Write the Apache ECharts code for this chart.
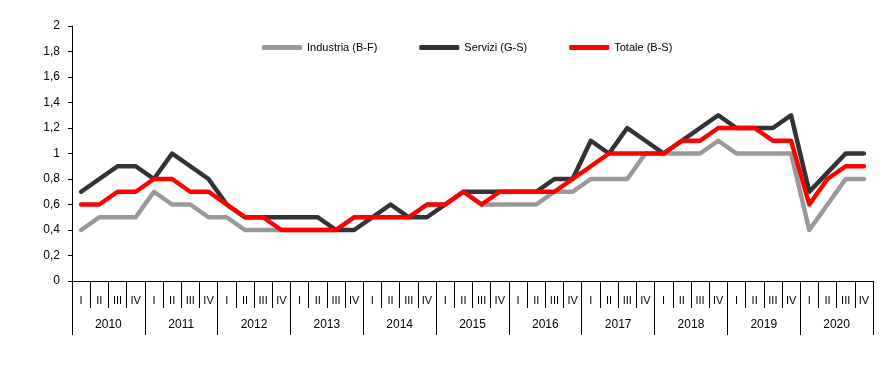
<!DOCTYPE html>
<html>
<head>
<meta charset="utf-8">
<script src="https://cdn.jsdelivr.net/npm/echarts@6/dist/echarts.min.js"></script>
<style>html,body{margin:0;padding:0;background:#fff}#c{width:895px;height:366px}</style>
</head>
<body>
<div id="c"></div>
<script>
var years = ['2010','2011','2012','2013','2014','2015','2016','2017','2018','2019','2020'];
var quarterNames = ['I','II','III','IV'];
var yTicks = {min: 0, max: 2, step: 0.2};
var industria = [
  0.4,0.5,0.5,0.5, 0.7,0.6,0.6,0.5, 0.5,0.4,0.4,0.4, 0.4,0.4,0.4,0.5,
  0.5,0.5,0.5,0.6, 0.6,0.7,0.6,0.6, 0.6,0.6,0.7,0.7, 0.8,0.8,0.8,1.0,
  1.0,1.0,1.0,1.1, 1.0,1.0,1.0,1.0, 0.4,0.6,0.8,0.8
];
var servizi = [
  0.7,0.8,0.9,0.9, 0.8,1.0,0.9,0.8, 0.6,0.5,0.5,0.5, 0.5,0.5,0.4,0.4,
  0.5,0.6,0.5,0.5, 0.6,0.7,0.7,0.7, 0.7,0.7,0.8,0.8, 1.1,1.0,1.2,1.1,
  1.0,1.1,1.2,1.3, 1.2,1.2,1.2,1.3, 0.7,0.85,1.0,1.0
];
var totale = [
  0.6,0.6,0.7,0.7, 0.8,0.8,0.7,0.7, 0.6,0.5,0.5,0.4, 0.4,0.4,0.4,0.5,
  0.5,0.5,0.5,0.6, 0.6,0.7,0.6,0.7, 0.7,0.7,0.7,0.8, 0.9,1.0,1.0,1.0,
  1.0,1.1,1.1,1.2, 1.2,1.2,1.1,1.1, 0.6,0.8,0.9,0.9
];
var seriesNames = ['Industria (B-F)','Servizi (G-S)','Totale (B-S)'];
var colors = ['#999999','#333333','#ff0000'];

var quarters = [];
years.forEach(function(y){ quarterNames.forEach(function(q){ quarters.push(q); }); });

var FONT = '"Liberation Sans Narrow", "Arial Narrow", "Liberation Sans", Arial, sans-serif';
var chart = echarts.init(document.getElementById('c'), null, {renderer: 'canvas'});
var data = [industria, servizi, totale];
chart.setOption({
  animation: false,
  backgroundColor: '#ffffff',
  grid: {left: 72, right: 22, top: 26, bottom: 85, containLabel: false},
  legend: {
    left: 257, top: 37,
    itemWidth: 40, itemHeight: 5, itemGap: 42,
    icon: 'roundRect',
    textStyle: {fontFamily: FONT, fontSize: 11, color: '#000'},
    data: seriesNames
  },
  xAxis: [{
    type: 'category', data: quarters, boundaryGap: true, position: 'bottom',
    axisLine: {show: true, lineStyle: {color: '#000', width: 1}},
    axisTick: {show: true, interval: 0, length: 27, lineStyle: {color: '#000'}},
    axisLabel: {interval: 0, margin: 14, fontFamily: FONT, fontSize: 11, color: '#000'},
    splitLine: {show: false}
  }, {
    type: 'category', data: years, boundaryGap: true, position: 'bottom',
    axisLine: {show: false},
    axisTick: {show: true, interval: 0, length: 54, lineStyle: {color: '#000'}},
    axisLabel: {interval: 0, margin: 38, fontFamily: FONT, fontSize: 12, color: '#000'},
    splitLine: {show: false}
  }],
  yAxis: {
    type: 'value', min: yTicks.min, max: yTicks.max, interval: yTicks.step,
    axisLine: {show: true, lineStyle: {color: '#000', width: 1}},
    axisTick: {show: true, length: 4, lineStyle: {color: '#000'}},
    axisLabel: {margin: 12, fontFamily: FONT, fontSize: 12, color: '#000',
      formatter: function(v){ return String(Math.round(v*10)/10).replace('.', ','); }},
    splitLine: {show: false}
  },
  series: seriesNames.map(function(n, i){
    return {
      name: n, type: 'line', xAxisIndex: 0, data: data[i],
      symbol: 'none', smooth: false, z: 2 + i,
      color: colors[i],
      lineStyle: {color: colors[i], width: 4.5, cap: 'round', join: 'round'}
    };
  })
});
</script>
</body>
</html>
